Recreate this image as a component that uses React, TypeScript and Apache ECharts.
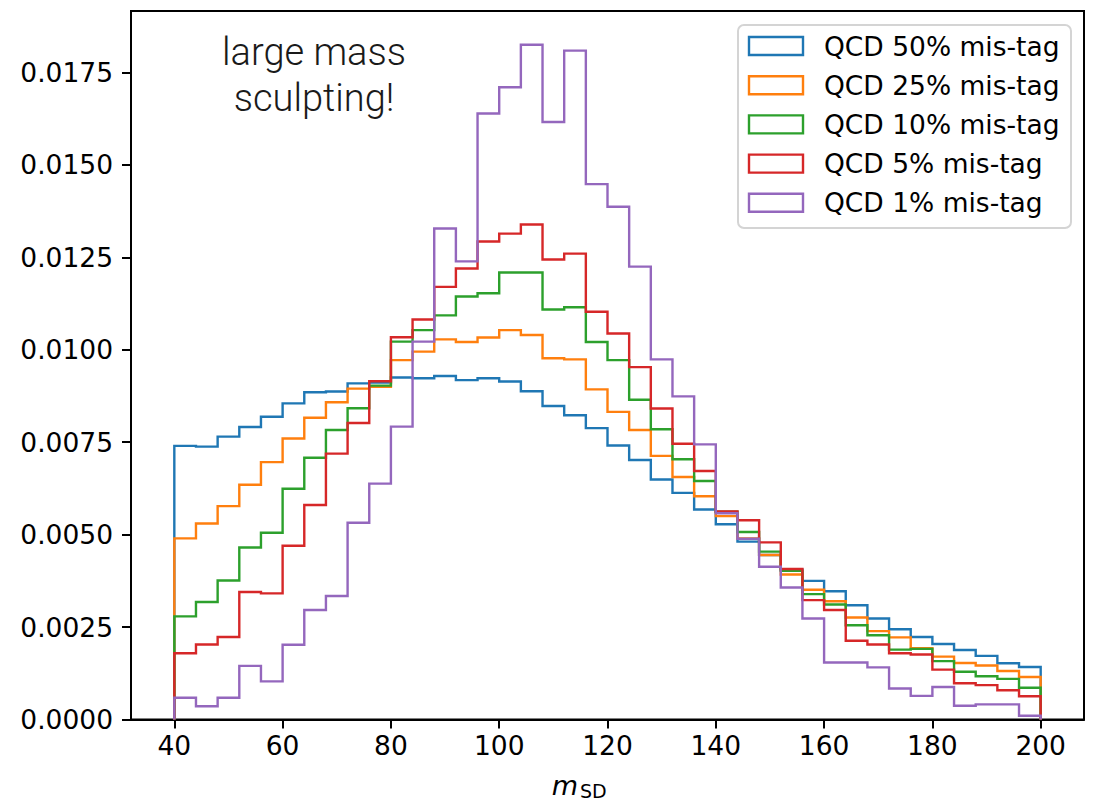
import React, { useEffect, useRef } from "react";
import * as echarts from "echarts";

// Bin edges of the histograms (m_SD)
const binEdges = [40, 44, 48, 52, 56, 60, 64, 68, 72, 76, 80, 84, 88, 92, 96, 100, 104, 108, 112, 116, 120, 124, 128, 132, 136, 140, 144, 148, 152, 156, 160, 164, 168, 172, 176, 180, 184, 188, 192, 196, 200];

// Normalised bin contents, one value per bin
const qcd50 = [0.00740, 0.00738, 0.00765, 0.00791, 0.00819, 0.00855, 0.00885, 0.00887, 0.00909, 0.00911,
  0.00925, 0.00923, 0.00929, 0.00918, 0.00923, 0.00914, 0.00888, 0.00848, 0.00823, 0.00788,
  0.00741, 0.00702, 0.00649, 0.00613, 0.00568, 0.00528, 0.00481, 0.00445, 0.00405, 0.00375,
  0.00347, 0.00309, 0.00273, 0.00244, 0.00223, 0.00204, 0.00188, 0.00172, 0.00152, 0.00142];
const qcd25 = [0.00490, 0.00530, 0.00577, 0.00635, 0.00696, 0.00760, 0.00816, 0.00858, 0.00895, 0.00900,
  0.00972, 0.00995, 0.01028, 0.01021, 0.01033, 0.01053, 0.01040, 0.00977, 0.00974, 0.00893,
  0.00832, 0.00783, 0.00713, 0.00656, 0.00604, 0.00550, 0.00490, 0.00445, 0.00392, 0.00351,
  0.00320, 0.00276, 0.00239, 0.00222, 0.00193, 0.00170, 0.00153, 0.00146, 0.00131, 0.00115];
const qcd10 = [0.00279, 0.00318, 0.00376, 0.00465, 0.00505, 0.00624, 0.00708, 0.00783, 0.00842, 0.00903,
  0.01022, 0.01053, 0.01093, 0.01144, 0.01153, 0.01209, 0.01209, 0.01109, 0.01115, 0.01021,
  0.00972, 0.00865, 0.00785, 0.00704, 0.00645, 0.00562, 0.00507, 0.00454, 0.00402, 0.00339,
  0.00311, 0.00255, 0.00228, 0.00189, 0.00191, 0.00158, 0.00129, 0.00117, 0.00110, 0.00086];
const qcd5 = [0.00179, 0.00203, 0.00223, 0.00345, 0.00341, 0.00470, 0.00580, 0.00719, 0.00802, 0.00915,
  0.01034, 0.01082, 0.01170, 0.01220, 0.01293, 0.01314, 0.01339, 0.01244, 0.01260, 0.01103,
  0.01044, 0.00953, 0.00841, 0.00746, 0.00672, 0.00563, 0.00539, 0.00479, 0.00407, 0.00323,
  0.00296, 0.00213, 0.00203, 0.00179, 0.00176, 0.00135, 0.00098, 0.00093, 0.00079, 0.00063];
const qcd1 = [0.00059, 0.00036, 0.00059, 0.00145, 0.00103, 0.00202, 0.00296, 0.00334, 0.00532, 0.00638,
  0.00792, 0.01022, 0.01328, 0.01239, 0.01639, 0.01710, 0.01825, 0.01616, 0.01809, 0.01448,
  0.01387, 0.01225, 0.00974, 0.00874, 0.00744, 0.00558, 0.00489, 0.00413, 0.00357, 0.00273,
  0.00154, 0.00154, 0.00141, 0.00084, 0.00064, 0.00088, 0.00037, 0.00041, 0.00041, 0.00010];

const seriesNames = ["QCD 50% mis-tag", "QCD 25% mis-tag", "QCD 10% mis-tag", "QCD 5% mis-tag", "QCD 1% mis-tag"];
const seriesValues = [qcd50, qcd25, qcd10, qcd5, qcd1];
const colors = ["#1f77b4", "#ff7f0e", "#2ca02c", "#d62728", "#9467bd"];

const xTicks = [40, 60, 80, 100, 120, 140, 160, 180, 200];
const yTicks = [0, 0.0025, 0.005, 0.0075, 0.01, 0.0125, 0.015, 0.0175];

const annotation = "large mass\nsculpting!";

function stepOutline(values: number[]): number[][] {
  const pts: number[][] = [[binEdges[0], 0]];
  values.forEach((v, i) => {
    pts.push([binEdges[i], v]);
    pts.push([binEdges[i + 1], v]);
  });
  pts.push([binEdges[binEdges.length - 1], 0]);
  return pts;
}

const FONT = "DejaVu Sans";
const FS = 26.5;

export default function App() {
  const ref = useRef<HTMLDivElement>(null);

  useEffect(() => {
    if (!ref.current) return;
    const chart = echarts.init(ref.current, undefined, { renderer: "svg" });
    const allMax = Math.max(...seriesValues.map((s) => Math.max(...s)));
    const yMax = allMax * 1.05;

    const legendChildren: any[] = [
      {
        type: "rect",
        shape: { x: 0, y: 0, width: 333, height: 203, r: 6 },
        style: { fill: "rgba(255,255,255,0.8)", stroke: "#d4d4d4", lineWidth: 2 },
      },
    ];
    seriesNames.forEach((name, i) => {
      legendChildren.push({
        type: "rect",
        shape: { x: 11, y: 12 + 39.2 * i, width: 54, height: 18 },
        style: { fill: "none", stroke: colors[i], lineWidth: 2.4 },
      });
      legendChildren.push({
        type: "text",
        x: 86,
        y: 21 + 39.2 * i,
        style: {
          text: name,
          fill: "#000",
          fontSize: FS,
          fontFamily: FONT,
          align: "left",
          verticalAlign: "middle",
        },
      });
    });

    const option: any = {
      animation: false,
      backgroundColor: "#fff",
      grid: {
        left: 131,
        top: 11,
        width: 953,
        height: 708.5,
        show: true,
        borderColor: "#000",
        borderWidth: 2,
        backgroundColor: "transparent",
      },
      xAxis: {
        type: "value",
        min: 32,
        max: 208,
        axisLine: { show: true, onZero: false, lineStyle: { color: "#000", width: 2 } },
        axisTick: { show: true, customValues: xTicks, length: 9, lineStyle: { color: "#000", width: 2 } },
        axisLabel: {
          customValues: xTicks,
          color: "#000",
          fontSize: FS,
          fontFamily: FONT,
          margin: 12,
        },
        splitLine: { show: false },
      },
      yAxis: {
        type: "value",
        min: 0,
        max: yMax,
        axisLine: { show: true, lineStyle: { color: "#000", width: 2 } },
        axisTick: { show: true, customValues: yTicks, length: 9, lineStyle: { color: "#000", width: 2 } },
        axisLabel: {
          customValues: yTicks,
          color: "#000",
          fontSize: FS,
          fontFamily: FONT,
          margin: 18,
          formatter: (v: number) => v.toFixed(4),
        },
        splitLine: { show: false },
      },
      series: seriesValues.map((vals, i) => ({
        name: seriesNames[i],
        type: "line",
        data: stepOutline(vals),
        symbol: "none",
        showSymbol: false,
        clip: true,
        z: 2 + i,
        lineStyle: { color: colors[i], width: 2.4, join: "miter" },
        emphasis: { disabled: true },
      })),
      graphic: [
        {
          type: "text",
          x: 314,
          y: 75,
          style: {
            text: annotation,
            fill: "#1a1a1a",
            fontSize: 38,
            fontFamily: "Roboto",
            fontWeight: 300,
            lineHeight: 46,
            align: "center",
            verticalAlign: "middle",
          },
        },
        {
          type: "group",
          x: 738,
          y: 25,
          z: 100,
          children: legendChildren,
        },
        {
          type: "text",
          x: 565,
          y: 785,
          style: {
            text: "m",
            fill: "#000",
            fontSize: 27,
            fontStyle: "italic",
            fontFamily: FONT,
            align: "center",
            verticalAlign: "middle",
          },
        },
        {
          type: "text",
          x: 580,
          y: 791,
          style: {
            text: "SD",
            fill: "#000",
            fontSize: 19,
            fontFamily: FONT,
            align: "left",
            verticalAlign: "middle",
          },
        },
      ],
    };
    chart.setOption(option);
    return () => chart.dispose();
  }, []);

  return (
    <div
      ref={ref}
      style={{ position: "absolute", left: 0, top: 0, width: 1099, height: 801 }}
    />
  );
}
